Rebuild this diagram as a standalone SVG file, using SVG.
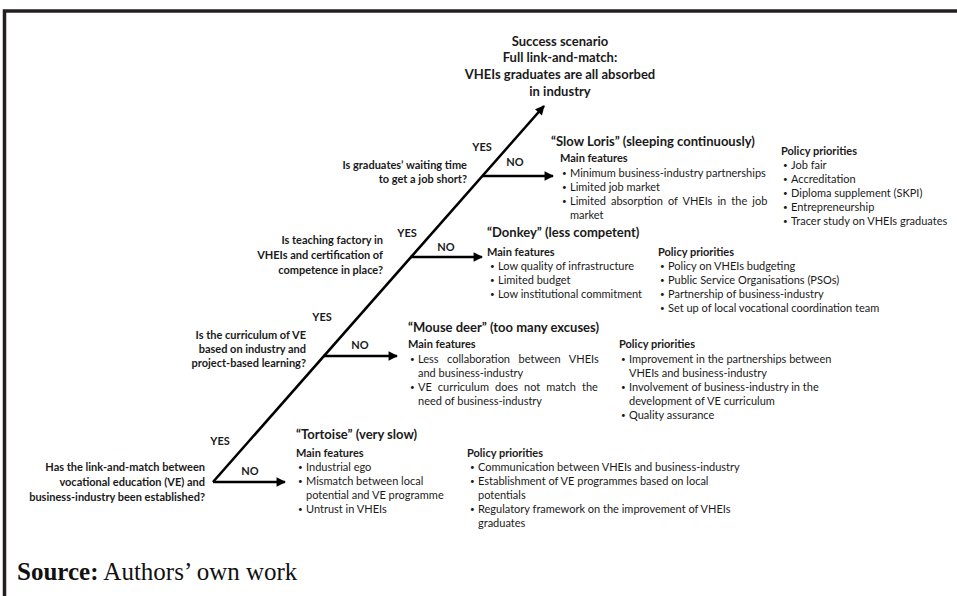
<svg xmlns="http://www.w3.org/2000/svg" width="957" height="596" viewBox="0 0 957 596">
<style>
text{font-family:Lato,"Open Sans","Liberation Sans",sans-serif;fill:#1a1a1a}
.q{font-size:11px;font-weight:bold;text-anchor:end}
.yn{font-size:11px;font-weight:bold;text-anchor:middle}
.h{font-size:13px;font-weight:bold}
.s{font-size:11px;font-weight:bold}
.b{font-size:11px}
.d{font-size:8px}
.top{font-size:13px;font-weight:bold;text-anchor:middle}
.src{font-family:"Liberation Serif","Times New Roman",serif;font-size:25px;fill:#111}
.ln{stroke:#000;stroke-width:2.6;fill:none}
</style>
<defs>
<marker id="ah" viewBox="0 0 10 10" refX="9" refY="5" markerWidth="4.2" markerHeight="3.6" orient="auto" markerUnits="strokeWidth">
<path d="M0,0 L10,5 L0,10 z" fill="#000"/>
</marker>
</defs>
<rect width="957" height="596" fill="#fff"/>
<g id="frame">
<path d="M4.5,596 V11 H957" stroke="#231f20" stroke-width="3.5" fill="none"/>
</g>
<g id="connectors">
<line class="ln" x1="213" y1="482" x2="544" y2="106" marker-end="url(#ah)"/>
<line class="ln" x1="213" y1="482" x2="285" y2="482" marker-end="url(#ah)"/>
<line class="ln" x1="323" y1="356" x2="397" y2="356" marker-end="url(#ah)"/>
<line class="ln" x1="410" y1="257" x2="482" y2="257" marker-end="url(#ah)"/>
<line class="ln" x1="482" y1="176" x2="553" y2="176" marker-end="url(#ah)"/>
</g>
<g id="success">
<text class="top" x="560" y="46">Success scenario</text>
<text class="top" x="560" y="62">Full link-and-match:</text>
<text class="top" x="560" y="79">VHEIs graduates are all absorbed</text>
<text class="top" x="560" y="96">in industry</text>
</g>
<g id="q4">
<text class="q" x="467" y="169">Is graduates’ waiting time</text>
<text class="q" x="467" y="183">to get a job short?</text>
<text class="yn" x="482" y="151">YES</text>
<text class="yn" x="515" y="166">NO</text>
</g>
<g id="slowloris">
<text class="h" x="551" y="146">“Slow Loris” (sleeping continuously)</text>
<text class="s" x="560" y="162">Main features</text>
<text class="d" x="562" y="176">•</text><text class="b" x="570" y="177">Minimum business-industry partnerships</text>
<text class="d" x="562" y="190">•</text><text class="b" x="570" y="191">Limited job market</text>
<text class="d" x="562" y="204">•</text><text class="b" x="570" y="205" word-spacing="2.3">Limited absorption of VHEIs in the job</text>
<text class="b" x="570" y="219">market</text>
<text class="s" x="781" y="155">Policy priorities</text>
<text class="d" x="783" y="168">•</text><text class="b" x="791" y="169">Job fair</text>
<text class="d" x="783" y="182">•</text><text class="b" x="791" y="183">Accreditation</text>
<text class="d" x="783" y="196">•</text><text class="b" x="791" y="197">Diploma supplement (SKPI)</text>
<text class="d" x="783" y="210">•</text><text class="b" x="791" y="211">Entrepreneurship</text>
<text class="d" x="783" y="224">•</text><text class="b" x="791" y="225">Tracer study on VHEIs graduates</text>
</g>
<g id="q3">
<text class="q" x="383" y="244">Is teaching factory in</text>
<text class="q" x="383" y="259">VHEIs and certification of</text>
<text class="q" x="383" y="274">competence in place?</text>
<text class="yn" x="407" y="237">YES</text>
<text class="yn" x="446" y="251">NO</text>
</g>
<g id="donkey">
<text class="h" x="487" y="237">“Donkey” (less competent)</text>
<text class="s" x="487" y="256">Main features</text>
<text class="d" x="490" y="269">•</text><text class="b" x="498" y="270">Low quality of infrastructure</text>
<text class="d" x="490" y="283">•</text><text class="b" x="498" y="284">Limited budget</text>
<text class="d" x="490" y="297">•</text><text class="b" x="498" y="298">Low institutional commitment</text>
<text class="s" x="658" y="256">Policy priorities</text>
<text class="d" x="660" y="269">•</text><text class="b" x="668" y="270">Policy on VHEIs budgeting</text>
<text class="d" x="660" y="283">•</text><text class="b" x="668" y="284">Public Service Organisations (PSOs)</text>
<text class="d" x="660" y="297">•</text><text class="b" x="668" y="298">Partnership of business-industry</text>
<text class="d" x="660" y="311">•</text><text class="b" x="668" y="312">Set up of local vocational coordination team</text>
</g>
<g id="q2">
<text class="q" x="306" y="339">Is the curriculum of VE</text>
<text class="q" x="306" y="353">based on industry and</text>
<text class="q" x="306" y="367">project-based learning?</text>
<text class="yn" x="322" y="321">YES</text>
<text class="yn" x="360" y="349">NO</text>
</g>
<g id="mousedeer">
<text class="h" x="408" y="332">“Mouse deer” (too many excuses)</text>
<text class="s" x="408" y="348">Main features</text>
<text class="d" x="410" y="362">•</text><text class="b" x="418" y="363" word-spacing="5.7">Less collaboration between VHEIs</text>
<text class="b" x="418" y="377">and business-industry</text>
<text class="d" x="410" y="390">•</text><text class="b" x="418" y="391" word-spacing="3.2">VE curriculum does not match the</text>
<text class="b" x="418" y="405">need of business-industry</text>
<text class="s" x="619" y="348">Policy priorities</text>
<text class="d" x="621" y="362">•</text><text class="b" x="629" y="363">Improvement in the partnerships between</text>
<text class="b" x="629" y="377">VHEIs and business-industry</text>
<text class="d" x="621" y="390">•</text><text class="b" x="629" y="391">Involvement of business-industry in the</text>
<text class="b" x="629" y="405">development of VE curriculum</text>
<text class="d" x="621" y="418">•</text><text class="b" x="629" y="419">Quality assurance</text>
</g>
<g id="q1">
<text class="q" x="205" y="471">Has the link-and-match between</text>
<text class="q" x="205" y="486">vocational education (VE) and</text>
<text class="q" x="205" y="501">business-industry been established?</text>
<text class="yn" x="220" y="445">YES</text>
<text class="yn" x="250" y="475">NO</text>
</g>
<g id="tortoise">
<text class="h" x="296" y="439">“Tortoise” (very slow)</text>
<text class="s" x="296" y="457">Main features</text>
<text class="d" x="298" y="470">•</text><text class="b" x="306" y="471">Industrial ego</text>
<text class="d" x="298" y="484">•</text><text class="b" x="306" y="485">Mismatch between local</text>
<text class="b" x="306" y="499">potential and VE programme</text>
<text class="d" x="298" y="512">•</text><text class="b" x="306" y="513">Untrust in VHEIs</text>
<text class="s" x="467" y="457">Policy priorities</text>
<text class="d" x="470" y="470">•</text><text class="b" x="478" y="471">Communication between VHEIs and business-industry</text>
<text class="d" x="470" y="484">•</text><text class="b" x="478" y="485">Establishment of VE programmes based on local</text>
<text class="b" x="478" y="499">potentials</text>
<text class="d" x="470" y="512">•</text><text class="b" x="478" y="513">Regulatory framework on the improvement of VHEIs</text>
<text class="b" x="478" y="527">graduates</text>
</g>
<g id="source">
<text class="src" x="17" y="580"><tspan font-weight="bold">Source:</tspan> Authors’ own work</text>
</g>
</svg>
